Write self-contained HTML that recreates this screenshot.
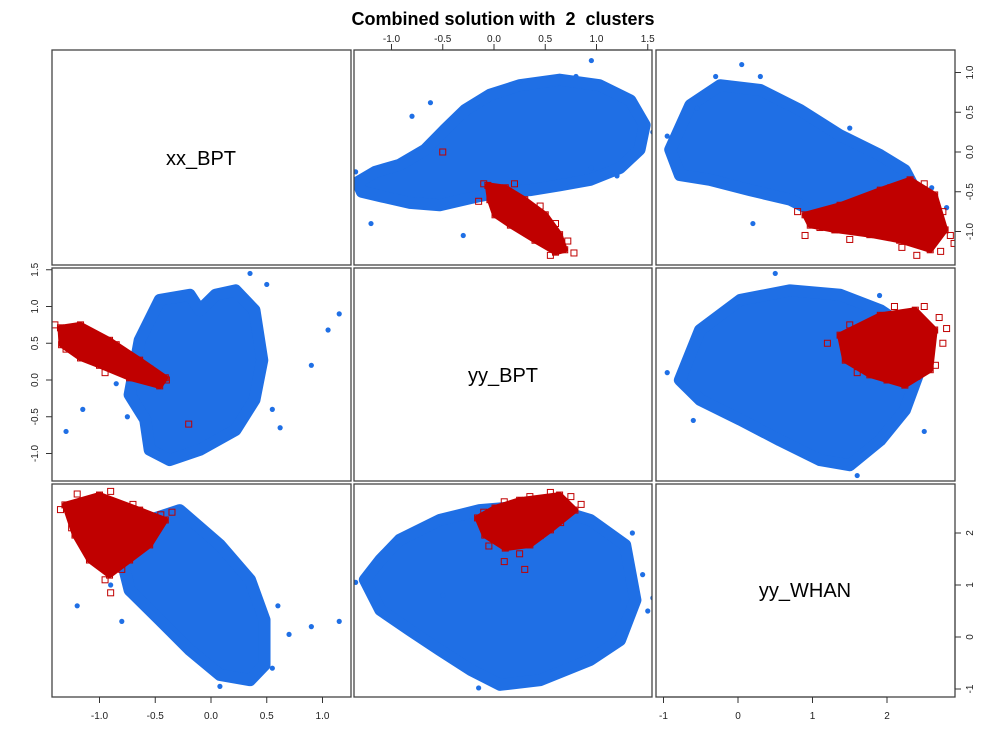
<!DOCTYPE html>
<html><head><meta charset="utf-8"><style>
body{margin:0;background:#fff;}
svg{display:block;font-family:"Liberation Sans",sans-serif;}
text{white-space:pre;}
</style></head><body>
<svg id="c" width="1007" height="750" viewBox="0 0 1007 750"></svg>
<script>
const xxTicks=[-1.0,-0.5,0.0,0.5,1.0];
const bptTicks=[-1.0,-0.5,0.0,0.5,1.0,1.5];
const whanTicks=[-1,0,1,2];
const r1c2Blue=[[-1.33,-0.38],[-1.16,-0.25],[-0.92,-0.16],[-0.67,0.03],[-0.48,0.28],[-0.28,0.53],[-0.04,0.72],[0.25,0.84],[0.64,0.91],[1.03,0.84],[1.33,0.65],[1.47,0.34],[1.42,0.03],[1.23,-0.20],[0.94,-0.35],[0.64,-0.42],[0.35,-0.48],[0.06,-0.50],[-0.23,-0.58],[-0.53,-0.67],[-0.82,-0.64],[-1.06,-0.57],[-1.29,-0.50]];
const r1c2Red=[[-0.06,-0.42],[0.11,-0.45],[0.30,-0.60],[0.50,-0.79],[0.64,-1.04],[0.69,-1.23],[0.60,-1.26],[0.40,-1.11],[0.16,-0.92],[0.01,-0.79],[-0.04,-0.60]];
const r1c3Blue=[[-0.91,0.03],[-0.64,0.59],[-0.24,0.84],[0.30,0.78],[0.83,0.53],[1.37,0.21],[1.91,-0.04],[2.24,-0.23],[2.38,-0.48],[2.04,-0.79],[1.64,-0.92],[1.10,-0.79],[0.70,-0.60],[0.16,-0.48],[-0.38,-0.35],[-0.78,-0.29]];
const r1c3Red=[[0.90,-0.79],[1.37,-0.67],[1.91,-0.48],[2.31,-0.35],[2.64,-0.54],[2.78,-0.98],[2.58,-1.23],[2.17,-1.11],[1.77,-1.04],[1.30,-0.98],[0.97,-0.92]];
const r2c1Blue=[[-0.73,-0.20],[-0.64,0.54],[-0.46,1.09],[-0.19,1.16],[-0.10,0.95],[0.04,1.16],[0.22,1.22],[0.39,0.95],[0.46,0.27],[0.39,-0.27],[0.22,-0.68],[-0.10,-0.95],[-0.37,-1.09],[-0.55,-0.95],[-0.59,-0.54]];
const r2c1Red=[[-1.35,0.71],[-1.17,0.75],[-0.91,0.54],[-0.64,0.27],[-0.41,0.03],[-0.46,-0.08],[-0.73,0.03],[-1.00,0.20],[-1.17,0.30],[-1.34,0.48]];
const r2c3Blue=[[-0.78,0],[-0.51,0.68],[0.03,1.09],[0.70,1.22],[1.37,1.16],[1.91,0.95],[2.31,0.68],[2.44,0.14],[2.24,-0.41],[1.91,-0.82],[1.50,-1.16],[1.10,-1.09],[0.56,-0.82],[0.03,-0.54],[-0.51,-0.27]];
const r2c3Red=[[1.37,0.61],[1.91,0.88],[2.38,0.95],[2.64,0.68],[2.58,0.14],[2.24,-0.07],[1.77,0.07],[1.44,0.27]];
const r3c1Blue=[[-0.82,1.67],[-0.55,2.25],[-0.28,2.44],[0.08,1.77],[0.35,1.10],[0.48,0.33],[0.48,-0.54],[0.35,-0.83],[0.08,-0.73],[-0.19,-0.25],[-0.46,0.33],[-0.73,0.90]];
const r3c1Red=[[-1.31,2.54],[-1.00,2.73],[-0.64,2.44],[-0.41,2.25],[-0.55,1.77],[-0.73,1.48],[-0.91,1.19],[-1.09,1.48],[-1.22,1.96]];
const r3c2Blue=[[-1.26,1.10],[-1.11,1.48],[-0.92,1.87],[-0.53,2.25],[-0.14,2.44],[0.45,2.54],[0.94,2.25],[1.28,1.77],[1.38,0.71],[1.23,-0.06],[0.94,-0.44],[0.45,-0.83],[0.06,-0.92],[-0.23,-0.63],[-0.53,-0.25],[-0.82,0.13],[-1.11,0.52]];
const r3c2Red=[[-0.16,2.29],[0.01,2.48],[0.25,2.63],[0.64,2.73],[0.79,2.44],[0.55,2.06],[0.35,1.77],[0.11,1.71],[-0.09,1.96]];
const r1c2RedPts=[[-0.1,-0.4],[0.2,-0.4],[0.45,-0.68],[0.72,-1.12],[0.78,-1.27],[0.55,-1.3],[0.3,-1.0],[0.05,-0.68],[-0.15,-0.62],[-0.5,0.0],[0.6,-0.9]];
const r1c3RedPts=[[0.8,-0.75],[1.1,-0.95],[2.05,-0.45],[2.5,-0.4],[2.75,-0.75],[2.85,-1.05],[2.72,-1.25],[2.4,-1.3],[2.2,-1.2],[1.5,-1.1],[0.9,-1.05],[2.9,-1.15],[2.6,-0.85]];
const r2c1RedPts=[[-1.4,0.75],[-1.25,0.65],[-1.05,0.62],[-0.85,0.48],[-0.7,0.2],[-0.55,0.15],[-0.4,0.0],[-1.3,0.42],[-1.05,0.3],[-0.2,-0.6],[-0.95,0.1]];
const r2c3RedPts=[[1.2,0.5],[1.5,0.75],[2.1,1.0],[2.5,1.0],[2.7,0.85],[2.75,0.5],[2.65,0.2],[2.4,0.05],[2.0,0.0],[1.6,0.1],[2.8,0.7]];
const r3c1RedPts=[[-1.35,2.45],[-1.2,2.75],[-0.9,2.8],[-0.7,2.55],[-0.45,2.35],[-0.6,1.9],[-0.8,1.3],[-0.95,1.1],[-1.05,1.55],[-1.25,2.1],[-0.9,0.85],[-0.35,2.4]];
const r3c2RedPts=[[-0.1,2.4],[0.1,2.6],[0.35,2.7],[0.55,2.78],[0.75,2.7],[0.85,2.55],[0.65,2.2],[0.45,1.95],[0.25,1.6],[0.1,1.45],[-0.05,1.75],[0.3,1.3]];
const r1c2Out=[[0.95,1.15],[0.25,0.88],[-0.62,0.62],[-1.2,-0.9],[-0.3,-1.05],[0.95,-0.2],[1.55,0.25],[-0.8,0.45],[1.2,-0.3],[-1.35,-0.25],[0.8,0.95]];
const r1c3Out=[[0.05,1.1],[0.3,0.95],[-0.55,0.55],[2.8,-0.7],[2.6,-0.45],[0.2,-0.9],[-0.95,0.2],[1.5,0.3],[-0.3,0.95]];
const r2c1Out=[[1.15,0.9],[1.05,0.68],[0.9,0.2],[0.62,-0.65],[-1.3,-0.7],[-1.15,-0.4],[-0.85,-0.05],[0.5,1.3],[0.35,1.45],[0.55,-0.4],[-0.75,-0.5]];
const r2c3Out=[[-0.95,0.1],[0.5,1.45],[2.5,-0.7],[1.6,-1.3],[-0.6,-0.55],[2.55,0.3],[1.9,1.15]];
const r3c1Out=[[1.15,0.3],[0.9,0.2],[0.7,0.05],[-1.2,0.6],[-0.8,0.3],[0.08,-0.95],[0.55,-0.6],[0.6,0.6],[-0.9,1.0]];
const r3c2Out=[[-1.35,1.05],[1.5,0.5],[1.55,0.75],[1.35,2.0],[-0.15,-0.98],[-0.5,0.8],[1.45,1.2],[-1.2,1.35]];

const S='http://www.w3.org/2000/svg';
const svg=document.getElementById('c');
function el(t,a,p){const e=document.createElementNS(S,t);for(const k in a)e.setAttribute(k,a[k]);(p||svg).appendChild(e);return e;}
const cols=[{l:52,r:351},{l:354,r:652},{l:656,r:955}];
const rows=[{t:50,b:265},{t:268,b:481},{t:484,b:697}];
const X=[v=>211+111.5*v, v=>494+102.5*v, v=>738+74.5*v];
const Y=[v=>152-79.5*v, v=>380-73.5*v, v=>637-52*v];
const BLUE='#1f6fe5', RED='#c00000';
const panels=[[0,1,r1c2Blue,r1c2Red,r1c2Out,r1c2RedPts],[0,2,r1c3Blue,r1c3Red,r1c3Out,r1c3RedPts],[1,0,r2c1Blue,r2c1Red,r2c1Out,r2c1RedPts],[1,2,r2c3Blue,r2c3Red,r2c3Out,r2c3RedPts],[2,0,r3c1Blue,r3c1Red,r3c1Out,r3c1RedPts],[2,1,r3c2Blue,r3c2Red,r3c2Out,r3c2RedPts]];
const defs=el('defs',{});
panels.forEach(([r,c,bl,rd,out,rpts],i)=>{
  const cp=el('clipPath',{id:'cp'+i},defs);
  el('rect',{x:cols[c].l,y:rows[r].t,width:cols[c].r-cols[c].l,height:rows[r].b-rows[r].t},cp);
  const g=el('g',{'clip-path':'url(#cp'+i+')'});
  
  
  const fx=X[c], fy=Y[r];
  const bp=el('polygon',{points:bl.map(p=>fx(p[0])+','+fy(p[1])).join(' '),fill:BLUE,stroke:BLUE,'stroke-width':12,'stroke-linejoin':'round'},g);
  
  
  out.forEach(p=>{const d=el('circle',{cx:fx(p[0]),cy:fy(p[1]),r:2.6,fill:BLUE},g);
    
    });
  const rp=el('polygon',{points:rd.map(p=>fx(p[0])+','+fy(p[1])).join(' '),fill:RED,stroke:RED,'stroke-width':6,'stroke-linejoin':'round'},g);
  
  
  rd.concat(rpts).forEach(p=>{const s=el('rect',{x:fx(p[0])-3,y:fy(p[1])-3,width:6,height:6,fill:'none',stroke:RED,'stroke-width':1},g);
    
    });
});
for(let r=0;r<3;r++)for(let c=0;c<3;c++){
  const f=el('rect',{x:cols[c].l,y:rows[r].t,width:cols[c].r-cols[c].l,height:rows[r].b-rows[r].t,fill:'none',stroke:'#444','stroke-width':1.3});
  
  
}
const diag=[['xx_BPT',201,158],['yy_BPT',503,375],['yy_WHAN',805,590]];
diag.forEach(d=>{const t=el('text',{x:d[1],y:d[2]+7,'font-size':20,'text-anchor':'middle',fill:'#000'});t.textContent=d[0];
  
  });
const title=el('text',{x:503,y:25,'font-size':18,'font-weight':'bold','text-anchor':'middle'});
title.textContent='Combined solution with  2  clusters';


function fmt(v,dec){return dec?v.toFixed(1):String(v);}
function hAxis(ticks,f,y,dir,dec,name){const g=el('g',{stroke:'#333'});
  
  
  el('line',{x1:f(ticks[0]),x2:f(ticks[ticks.length-1]),y1:y,y2:y,'stroke-width':1},g);
  ticks.forEach(v=>{el('line',{x1:f(v),x2:f(v),y1:y,y2:y+dir*6},g);
    const t=el('text',{x:f(v),y:dir>0?y+22:y-8,'font-size':10,'text-anchor':'middle',stroke:'none',fill:'#222'},g);t.textContent=fmt(v,dec);});}
function vAxis(ticks,f,x,dir,dec,name){const g=el('g',{stroke:'#333'});
  
  
  el('line',{y1:f(ticks[0]),y2:f(ticks[ticks.length-1]),x1:x,x2:x,'stroke-width':1},g);
  ticks.forEach(v=>{el('line',{y1:f(v),y2:f(v),x1:x,x2:x+dir*6},g);
    const tx=dir>0?x+18:x-14;
    const t=el('text',{x:tx,y:f(v),'font-size':10,'text-anchor':'middle',stroke:'none',fill:'#222',transform:'rotate(-90 '+tx+' '+f(v)+')'},g);t.textContent=fmt(v,dec);});}
hAxis(bptTicks,X[1],50,-1,true,'top-axis-yy-bpt');
hAxis(xxTicks,X[0],697,1,true,'bottom-axis-xx-bpt');
hAxis(whanTicks,X[2],697,1,false,'bottom-axis-yy-whan');
vAxis(xxTicks,Y[0],955,1,true,'right-axis-xx-bpt');
vAxis(bptTicks,Y[1],52,-1,true,'left-axis-yy-bpt');
vAxis(whanTicks,Y[2],955,1,false,'right-axis-yy-whan');
</script>
</body></html>
